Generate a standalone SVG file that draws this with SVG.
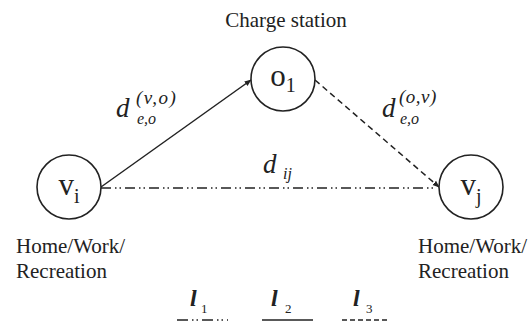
<svg xmlns="http://www.w3.org/2000/svg" width="530" height="322" viewBox="0 0 530 322">
<defs>
<style>
.lbl{font-family:"Liberation Serif","Times New Roman",serif;font-size:21px;fill:#222}
.nd{font-family:"Liberation Serif","Times New Roman",serif;font-size:31px;fill:#222}
.sub{font-size:20px}
.m{font-family:"Liberation Serif","Times New Roman",serif;font-style:italic;fill:#222}
.ls{font-family:"Liberation Serif","Times New Roman",serif;font-size:13px;fill:#222}
.node{fill:#fff;stroke:#222;stroke-width:1.6}
.edge{stroke:#222;stroke-width:1.5;fill:none}
</style>
<marker id="ah" viewBox="0 0 10 10" refX="9" refY="5" markerWidth="7" markerHeight="7" markerUnits="userSpaceOnUse" orient="auto">
<path d="M0,1 L10,5 L0,9 Z" fill="#222"/>
</marker>
</defs>
<rect width="530" height="322" fill="#fff"/>
<g id="connectors">
<line class="edge" x1="101" y1="187" x2="251" y2="80" marker-end="url(#ah)"/>
<line class="edge" x1="315" y1="80" x2="439" y2="187" stroke-dasharray="6,4" marker-end="url(#ah)"/>
<line class="edge" x1="101" y1="188" x2="437" y2="188" stroke-dasharray="10,4,1.5,3,1.5,4"/>
</g>
<g id="o1">
<circle class="node" cx="283" cy="79" r="32"/>
<text class="nd" x="283" y="86" text-anchor="middle">o<tspan class="sub" dy="6">1</tspan></text>
<text class="lbl" x="286" y="27" text-anchor="middle">Charge station</text>
</g>
<g id="vi">
<circle class="node" cx="69" cy="187" r="32"/>
<text class="nd" x="69" y="195" text-anchor="middle">v<tspan class="sub" dy="8">i</tspan></text>
<text class="lbl" x="16" y="253">Home/Work/</text>
<text class="lbl" x="16" y="278">Recreation</text>
</g>
<g id="vj">
<circle class="node" cx="471" cy="187" r="32"/>
<text class="nd" x="471" y="195" text-anchor="middle">v<tspan class="sub" dy="8">j</tspan></text>
<text class="lbl" x="418" y="253">Home/Work/</text>
<text class="lbl" x="418" y="278">Recreation</text>
</g>
<g id="labels">
<text class="m" x="116" y="117" font-size="27">d</text>
<text class="m" x="136" y="104" font-size="19" letter-spacing="1.5">(v,o)</text>
<text class="m" x="137" y="124" font-size="16">e,o</text>
<text class="m" x="382" y="117" font-size="27">d</text>
<text class="m" x="399" y="103" font-size="19" letter-spacing="0.5">(o,v)</text>
<text class="m" x="400" y="124" font-size="16">e,o</text>
<text class="m" x="263" y="173" font-size="27">d</text>
<text class="m" x="283" y="179" font-size="16">ij</text>
</g>
<g id="legend">
<text class="m" x="190" y="306" font-size="24" font-weight="bold">l</text>
<text class="ls" x="201" y="313">1</text>
<line class="edge" x1="177" y1="320" x2="228" y2="320" stroke-dasharray="11,4,1.5,3,1.5,4"/>
<text class="m" x="271" y="306" font-size="24" font-weight="bold">l</text>
<text class="ls" x="285" y="313">2</text>
<line class="edge" x1="262" y1="320" x2="313" y2="320"/>
<text class="m" x="353" y="306" font-size="24" font-weight="bold">l</text>
<text class="ls" x="366" y="313">3</text>
<line class="edge" x1="342" y1="320" x2="389" y2="320" stroke-dasharray="5,3"/>
</g>
</svg>
